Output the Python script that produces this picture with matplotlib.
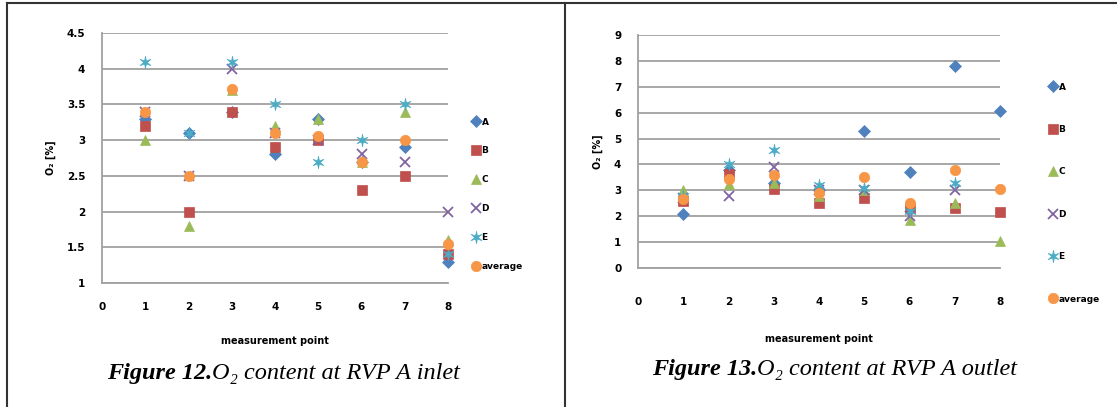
import numpy as np
import matplotlib
matplotlib.use('Agg')
import matplotlib.pyplot as plt
from matplotlib.lines import Line2D

# measurement points
points = [1, 2, 3, 4, 5, 6, 7, 8]
series = ['A', 'B', 'C', 'D', 'E', 'average']

# O2 content at RVP A inlet [%]
inlet_A = [3.3, 3.1, 3.4, 2.8, 3.3, 2.7, 2.9, 1.3]
inlet_B = [3.2, 2.0, 3.4, 2.9, 3.0, 2.3, 2.5, 1.4]
inlet_C = [3.0, 1.8, 3.7, 3.2, 3.3, 2.7, 3.4, 1.6]
inlet_D = [3.4, 2.5, 4.0, 3.1, 3.0, 2.8, 2.7, 2.0]
inlet_E = [4.1, 3.1, 4.1, 3.5, 2.7, 3.0, 3.5, 1.4]
inlet_avg = [3.4, 2.5, 3.72, 3.1, 3.06, 2.7, 3.0, 1.55]

# O2 content at RVP A outlet [%]
outlet_A = [2.1, 3.8, 3.3, 3.0, 5.3, 3.7, 7.8, 6.05]
outlet_B = [2.6, 3.65, 3.05, 2.5, 2.7, 2.3, 2.3, 2.15]
outlet_C = [3.0, 3.25, 3.3, 2.8, 3.0, 1.85, 2.5, 1.05]
outlet_D = [2.7, 2.8, 3.9, 3.0, 3.0, 2.0, 3.0, np.nan]
outlet_E = [2.8, 4.0, 4.55, 3.2, 3.1, 2.2, 3.3, np.nan]
outlet_avg = [2.65, 3.45, 3.6, 2.9, 3.5, 2.5, 3.8, 3.05]

inlet_ticks = [1, 1.5, 2, 2.5, 3, 3.5, 4, 4.5]
outlet_ticks = [0, 1, 2, 3, 4, 5, 6, 7, 8, 9]

colors = ['#4F81BD', '#C0504D', '#9BBB59', '#8064A2', '#4BACC6', '#F79646']
markers = ['D', 's', '^', 'x', '$\u2736$', 'o']
sizes = [6.5, 7.5, 7, 7, 9, 7.5]

tick_font = ['Liberation Sans Narrow', 'DejaVu Sans']
W, H = 1117, 407

fig = plt.figure(figsize=(W / 100, H / 100), dpi=100)


def px(x0, y0, x1, y1):
    # pixel box -> figure fraction [left, bottom, width, height]
    return [x0 / W, 1 - y1 / H, (x1 - x0) / W, (y1 - y0) / H]


def draw(ax, data, ylim, yticks, xpad, xlabelpad, legend_anchor, spacing):
    for vals, c, m, s, name in zip(data, colors, markers, sizes, series):
        ax.plot(points, vals, linestyle='none', marker=m, color=c,
                markersize=s, markeredgewidth=1.3 if m == 'x' else 0.5,
                label=name, clip_on=False)
    ax.set_xlim(0, 8)
    ax.set_ylim(*ylim)
    ax.set_xticks(range(0, 9))
    ax.set_yticks(yticks)
    ax.set_yticklabels(['%g' % v for v in yticks])
    ax.yaxis.grid(True, color='#a0a0a0', linewidth=1.3)
    ax.set_axisbelow(True)
    for side in ['top', 'right']:
        ax.spines[side].set_visible(False)
    for side in ['left', 'bottom']:
        ax.spines[side].set_color('#a0a0a0')
        ax.spines[side].set_linewidth(1.3)
    ax.tick_params(length=0, labelsize=7.5)
    ax.tick_params(axis='x', pad=xpad)
    ax.tick_params(axis='y', pad=12)
    for t in ax.get_xticklabels() + ax.get_yticklabels():
        t.set_fontfamily(tick_font)
        t.set_fontweight('bold')
    ax.set_ylabel('O\u2082 [%]', fontsize=7, fontweight='bold',
                  fontfamily=tick_font, labelpad=8)
    ax.set_xlabel('measurement point', fontsize=7, fontweight='bold',
                  fontfamily=tick_font, labelpad=xlabelpad)
    leg = fig.legend(*ax.get_legend_handles_labels(), loc='upper left',
                     bbox_to_anchor=legend_anchor, frameon=False,
                     prop={'family': tick_font, 'weight': 'bold', 'size': 6.5},
                     labelspacing=spacing, handlelength=0.8, handletextpad=0.2,
                     borderpad=0)
    return leg


ax1 = fig.add_axes(px(102, 33, 448, 283))
draw(ax1, [inlet_A, inlet_B, inlet_C, inlet_D, inlet_E, inlet_avg],
     (1, 4.5), inlet_ticks, 14, 17, (468 / W, 1 - 113 / H), 2.2)

ax2 = fig.add_axes(px(638, 35, 1000, 268))
draw(ax2, [outlet_A, outlet_B, outlet_C, outlet_D, outlet_E, outlet_avg],
     (0, 9), outlet_ticks, 21, 19, (1045 / W, 1 - 78 / H), 3.7)

# panel borders
border = dict(color='#333333', linewidth=1.5, transform=fig.transFigure)
fig.add_artist(Line2D([7 / W, 7 / W], [0, 1 - 3 / H], **border))
fig.add_artist(Line2D([565 / W, 565 / W], [0, 1 - 3 / H], **border))
fig.add_artist(Line2D([7 / W, 1], [1 - 3 / H, 1 - 3 / H], **border))

# captions: bold italic figure number followed by italic text
renderer = fig.canvas.get_renderer()
for x0, y0, num, rest in [(107, 373, 'Figure 12.', 'O\u2082 content at RVP A inlet'),
                          (652, 369, 'Figure 13.', 'O\u2082 content at RVP A outlet')]:
    t = fig.text(x0 / W, 1 - y0 / H, num, fontsize=17.5, fontfamily='Liberation Serif',
                 fontstyle='italic', fontweight='bold', va='center', ha='left')
    bb = t.get_window_extent(renderer)
    fig.text(bb.x1 / W, 1 - y0 / H, rest, fontsize=17.5, fontfamily='Liberation Serif',
             fontstyle='italic', va='center', ha='left')

fig.savefig('out.png', dpi=100)
